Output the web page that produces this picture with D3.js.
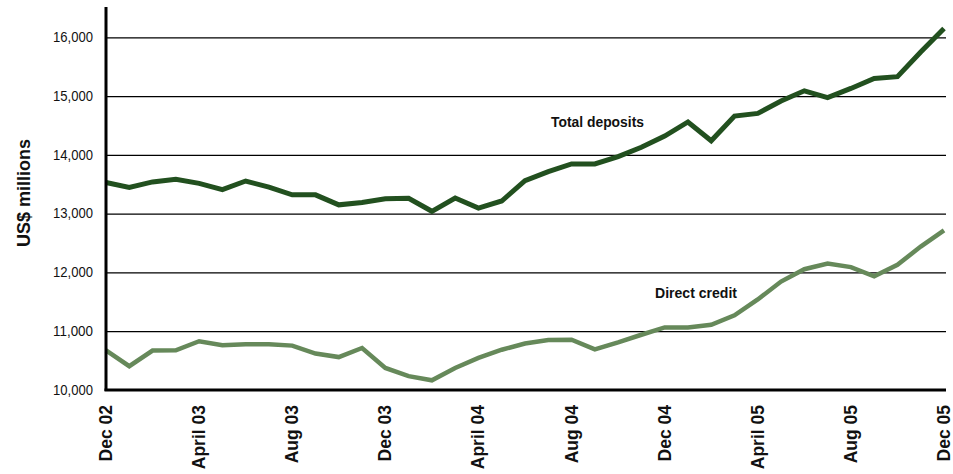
<!DOCTYPE html>
<meta charset="utf-8">
<style>
    body { margin: 0; background: #fff; }
    .grid line { stroke: #000; stroke-width: 1.3px; }
    .grid path { display: none; }
    .axis-y text { font-family: "Liberation Sans", Arial, sans-serif; font-size: 15px; fill: #111; }
    .axis-x text { font-family: "Liberation Sans", Arial, sans-serif; font-size: 17.5px; font-weight: bold; fill: #111; }
    .depositsLine { fill: none; stroke: #22501f; stroke-width: 5px; stroke-linejoin: miter; }
    .creditLine { fill: none; stroke: #66895a; stroke-width: 4.5px; stroke-linejoin: miter; }
    .label { font-family: "Liberation Sans", Arial, sans-serif; font-weight: bold; fill: #111; }
</style>
<body>
    <script src="https://d3js.org/d3.v7.min.js"></script>
    <script>

        // months Dec 02 .. Dec 05
        var tickMonths = [0, 4, 8, 12, 16, 20, 24, 28, 32, 36];
        var tickLabels = ["Dec 02", "April 03", "Aug 03", "Dec 03", "April 04",
                          "Aug 04", "Dec 04", "April 05", "Aug 05", "Dec 05"];
        var yTicks = [10000, 11000, 12000, 13000, 14000, 15000, 16000];

        var totalDeposits = [13530, 13445, 13540, 13585, 13515, 13410, 13555, 13450, 13320, 13320,
                             13150, 13190, 13255, 13260, 13040, 13265, 13095, 13215, 13560, 13715,
                             13845, 13845, 13970, 14130, 14320, 14560, 14240, 14660, 14705, 14915,
                             15090, 14975, 15130, 15300, 15330, 15750, 16150];
        var directCredit = [10675, 10405, 10670, 10675, 10830, 10760, 10780, 10780, 10755, 10620,
                            10560, 10715, 10375, 10235, 10165, 10375, 10545, 10685, 10790, 10850,
                            10855, 10690, 10810, 10940, 11065, 11065, 11110, 11270, 11540, 11845,
                            12055, 12150, 12090, 11935, 12130, 12440, 12715];

        var width = 953, height = 474;
        var margin = {left: 106, right: 9, top: 7, bottom: 84};

        var x = d3.scaleLinear().domain([0, 36]).range([margin.left, 944]);
        var y = d3.scaleLinear().domain([10000, 16000]).range([390, 37.3]);

        var svg = d3.select("body").append("svg")
            .attr("width", width)
            .attr("height", height);

        // gridlines
        svg.append("g")
            .attr("class", "grid")
            .attr("transform", "translate(" + margin.left + ",0)")
            .call(d3.axisRight(y).tickValues(yTicks.slice(1)).tickSize(946 - margin.left).tickFormat(""));

        // y tick labels (condensed a little to look like the original face)
        svg.append("g")
            .attr("class", "axis-y")
            .attr("transform", "translate(" + margin.left + ",0)")
            .call(d3.axisLeft(y).tickValues(yTicks).tickSize(0).tickPadding(13).tickFormat(d3.format(",")))
            .call(function(g) { g.select(".domain").remove(); })
            .selectAll("text")
            .attr("textLength", 40)
            .attr("lengthAdjust", "spacingAndGlyphs")
            .attr("dy", "0.28em");

        var line = d3.line()
            .x(function(d, i) { return x(i); })
            .y(function(d) { return y(d); });

        svg.append("path")
            .datum(directCredit)
            .attr("class", "creditLine")
            .attr("d", line);

        svg.append("path")
            .datum(totalDeposits)
            .attr("class", "depositsLine")
            .attr("d", line);

        // axis lines
        svg.append("line")
            .attr("x1", margin.left).attr("x2", margin.left)
            .attr("y1", margin.top).attr("y2", 391)
            .attr("stroke", "#000").attr("stroke-width", 3);
        svg.append("line")
            .attr("x1", margin.left - 1.5).attr("x2", 946)
            .attr("y1", y(10000)).attr("y2", y(10000))
            .attr("stroke", "#000").attr("stroke-width", 3);

        // x labels
        svg.append("g")
            .attr("class", "axis-x")
            .selectAll("text")
            .data(tickMonths)
            .join("text")
            .attr("transform", function(d) { return "translate(" + (x(d) + 6) + ",405) rotate(-90)"; })
            .attr("text-anchor", "end")
            .text(function(d, i) { return tickLabels[i]; });

        // y title
        svg.append("text")
            .attr("class", "label")
            .attr("transform", "translate(30,193) rotate(-90)")
            .attr("text-anchor", "middle")
            .style("font-size", "18px")
            .text("US$ millions");

        // series labels
        svg.append("text")
            .attr("class", "label")
            .attr("x", 551).attr("y", 126.5)
            .attr("textLength", 93)
            .attr("lengthAdjust", "spacingAndGlyphs")
            .style("font-size", "15.5px")
            .text("Total deposits");
        svg.append("text")
            .attr("class", "label")
            .attr("x", 655).attr("y", 297.5)
            .attr("textLength", 82)
            .attr("lengthAdjust", "spacingAndGlyphs")
            .style("font-size", "15.5px")
            .text("Direct credit");

    </script>
</body>
